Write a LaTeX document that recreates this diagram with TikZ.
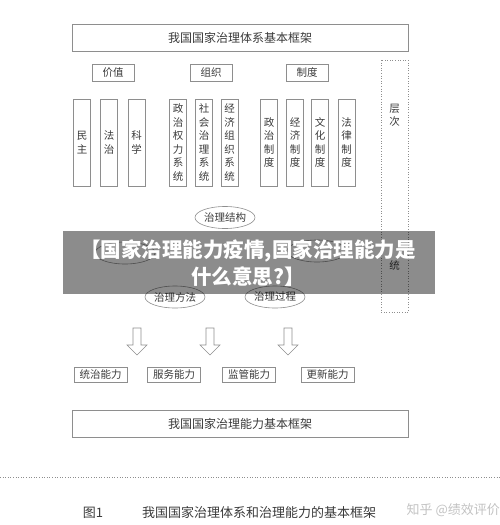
\documentclass[tikz,border=0pt]{standalone}
\usepackage{fontspec}
\newfontfamily\cjk{Noto Sans CJK SC}
\usepackage{tikz}
\usetikzlibrary{
	positioning,
	shapes.geometric
}
\definecolor{linegray}{HTML}{8E8E8E}
\definecolor{textgray}{HTML}{3A3A3A}
\definecolor{markgray}{HTML}{C2C2C2}

\tikzset{
	frame/.style   ={draw=linegray,line width=0.6pt,minimum width=336,minimum height=27,inner sep=0,font=\cjk\fontsize{12}{14}\selectfont},
	tag/.style     ={draw=linegray,line width=0.6pt,minimum width=42,minimum height=17,inner sep=0},
	column/.style  ={draw=linegray,line width=0.6pt,minimum width=17,minimum height=87,inner sep=0,align=center},
	oval/.style    ={ellipse,draw=linegray,line width=0.6pt,minimum width=60,minimum height=22,inner sep=0},
	ability/.style ={draw=linegray,line width=0.6pt,minimum width=53,minimum height=15,inner sep=0},
	hollowdown/.pic={\draw[linegray,line width=0.6pt] (-4,0) -- (-4,17) -- (-10,17) -- (0,27) -- (10,17) -- (4,17) -- (4,0) -- cycle;}
}

\begin{document}
\begin{tikzpicture}[x=1pt,y=-1pt,every node/.style={text=textgray,font=\cjk\fontsize{10.5}{13.5}\selectfont}]
	\useasboundingbox (0,0) rectangle (500,525);

	% system frame
	\draw
		node [frame]  (sys)  at (240,37.5) {我国国家治理体系基本框架}
		node [tag]    (val)  at (113,72.5) {价值}
		node [tag]    (org)  at (211,72.5) {组织}
		node [tag]    (inst) at (307,72.5) {制度}
	;
	\draw
		node [column] (c1)  at (82,142.5)    {民\\主}
		node [column] (c2)  at (109,142.5)   {法\\治}
		node [column] (c3)  at (136.5,142.5) {科\\学}
		node [column] (c4)  at (178,142.5)   {政\\治\\权\\力\\系\\统}
		node [column] (c5)  at (204,142.5)   {社\\会\\治\\理\\系\\统}
		node [column] (c6)  at (229.5,142.5) {经\\济\\组\\织\\系\\统}
		node [column] (c7)  at (269,142.5)   {政\\治\\制\\度}
		node [column] (c8)  at (295,142.5)   {经\\济\\制\\度}
		node [column] (c9)  at (320,142.5)   {文\\化\\制\\度}
		node [column] (c10) at (346.5,142.5) {法\\律\\制\\度}
	;

	% level box
	\draw[linegray,line width=0.6pt,dotted] (381,60) rectangle (408,312);
	\node (lvtop) at (394.5,115.5) [align=center] {层\\次};
	\node (lvbot) at (394.5,265)   {统};

	% governance ovals
	\draw
		node [oval] (gstruct) at (225,217.5) {治理结构}
		node [oval] (gleft)   at (125,253)   {}
		node [oval] (gright)  at (317,251)   {}
		node [oval] (gmethod) at (175,297)   {治理方法}
		node [oval] (gproc)   at (275,297)   {治理过程}
	;

	% arrows
	\pic at (137,328) {hollowdown};
	\pic at (210,328) {hollowdown};
	\pic at (288,328) {hollowdown};

	% abilities
	\draw
		node [ability] (a1) at (100.5,374.5) {统治能力}
		node [ability] (a2) at (174,374.5)   {服务能力}
		node [ability] (a3) at (249,374.5)   {监管能力}
		node [ability] (a4) at (327.5,374.5) {更新能力}
		node [frame]   (cap) at (240,423.5)  {我国国家治理能力基本框架}
	;

	% caption
	\draw[linegray,line width=0.6pt,dotted] (0,477) -- (500,477);
	\node (fig) at (93,513) [font=\cjk\fontsize{13}{15}\selectfont] {图1};
	\node (figtext) at (142,513) [anchor=west,inner sep=0,font=\cjk\fontsize{13}{15}\selectfont] {我国国家治理体系和治理能力的基本框架};
	\node (mark) at (500,510) [anchor=east,inner sep=0,text=markgray,font=\cjk\fontsize{13}{15}\selectfont] {知乎 @绩效评价};

	% banner
	\fill[black,fill opacity=0.45] (63,231) rectangle (435,294);
	\node (banner) at (248,263) [align=center,text=white,font=\cjk\bfseries\fontsize{20.5}{27}\selectfont] {【国家治理能力疫情,国家治理能力是\\什么意思?】};
\end{tikzpicture}
\end{document}
